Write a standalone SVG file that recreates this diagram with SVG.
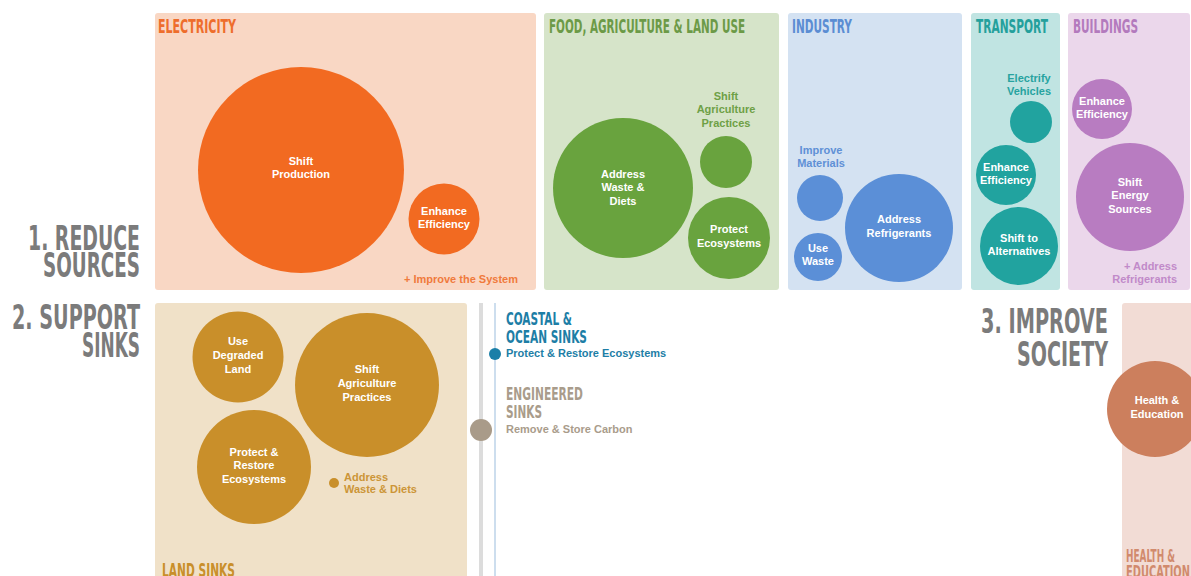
<svg xmlns="http://www.w3.org/2000/svg" width="1191" height="576" viewBox="0 0 1191 576">
<style>
.t{font-family:"Liberation Sans Narrow","DejaVu Sans Condensed","Liberation Sans",sans-serif;font-weight:bold}
.h{font-size:19px}
.big{font-size:34px;fill:#7b7b7b}
.b{font-family:"Liberation Sans",Arial,sans-serif;font-weight:bold;font-size:11px;text-anchor:middle}
.w{fill:#ffffff}
.l{font-family:"Liberation Sans",Arial,sans-serif;font-weight:bold;font-size:11px}
</style>
<rect width="1191" height="576" fill="#ffffff"/>

<g id="labels">
<text class="t big" x="140" y="250" text-anchor="end" textLength="112" lengthAdjust="spacingAndGlyphs">1. REDUCE</text>
<text class="t big" x="140" y="277" text-anchor="end" textLength="97" lengthAdjust="spacingAndGlyphs">SOURCES</text>
<text class="t big" x="140" y="329" text-anchor="end" textLength="128" lengthAdjust="spacingAndGlyphs">2. SUPPORT</text>
<text class="t big" x="140" y="357" text-anchor="end" textLength="58" lengthAdjust="spacingAndGlyphs">SINKS</text>
<text class="t big" x="1108" y="333" text-anchor="end" textLength="127" lengthAdjust="spacingAndGlyphs">3. IMPROVE</text>
<text class="t big" x="1108" y="366" text-anchor="end" textLength="91" lengthAdjust="spacingAndGlyphs">SOCIETY</text>
</g>

<g id="electricity">
<rect x="155" y="13" width="381" height="277" rx="3" fill="#f9d7c4"/>
<text class="t h" x="158" y="33" fill="#ee6d2c" textLength="78" lengthAdjust="spacingAndGlyphs">ELECTRICITY</text>
<circle cx="301" cy="170" r="103" fill="#f26a21"/>
<text class="b w" x="301" y="165">Shift</text>
<text class="b w" x="301" y="178">Production</text>
<circle cx="444" cy="219" r="35.5" fill="#f26a21"/>
<text class="b w" x="444" y="215">Enhance</text>
<text class="b w" x="444" y="228">Efficiency</text>
<text class="l" x="518" y="283" text-anchor="end" fill="#f07a3c">+ Improve the System</text>
</g>

<g id="food">
<rect x="544" y="13" width="235" height="277" rx="3" fill="#d6e4c9"/>
<text class="t h" x="549" y="33" fill="#6c9a47" textLength="196" lengthAdjust="spacingAndGlyphs">FOOD, AGRICULTURE &amp; LAND USE</text>
<circle cx="623" cy="188" r="70" fill="#69a33e"/>
<text class="b w" x="623" y="178">Address</text>
<text class="b w" x="623" y="191">Waste &amp;</text>
<text class="b w" x="623" y="205">Diets</text>
<text class="b" x="726" y="100" fill="#6ea046">Shift</text>
<text class="b" x="726" y="113" fill="#6ea046">Agriculture</text>
<text class="b" x="726" y="127" fill="#6ea046">Practices</text>
<circle cx="726" cy="162" r="26" fill="#69a33e"/>
<circle cx="729" cy="238" r="41" fill="#69a33e"/>
<text class="b w" x="729" y="233">Protect</text>
<text class="b w" x="729" y="247">Ecosystems</text>
</g>

<g id="industry">
<rect x="788" y="13" width="174" height="277" rx="3" fill="#d4e2f2"/>
<text class="t h" x="792" y="33" fill="#5b8dd3" textLength="60" lengthAdjust="spacingAndGlyphs">INDUSTRY</text>
<text class="b" x="821" y="154" fill="#5f90d6">Improve</text>
<text class="b" x="821" y="167" fill="#5f90d6">Materials</text>
<circle cx="820" cy="198" r="23" fill="#5b8fd7"/>
<circle cx="818" cy="257" r="24" fill="#5b8fd7"/>
<text class="b w" x="818" y="252">Use</text>
<text class="b w" x="818" y="265">Waste</text>
<circle cx="899" cy="228" r="54" fill="#5b8fd7"/>
<text class="b w" x="899" y="223">Address</text>
<text class="b w" x="899" y="237">Refrigerants</text>
</g>

<g id="transport">
<rect x="971" y="13" width="89" height="277" rx="3" fill="#c0e4e2"/>
<text class="t h" x="976" y="33" fill="#24a09c" textLength="72" lengthAdjust="spacingAndGlyphs">TRANSPORT</text>
<text class="b" x="1029" y="82" fill="#27a3a0">Electrify</text>
<text class="b" x="1029" y="95" fill="#27a3a0">Vehicles</text>
<circle cx="1031" cy="122" r="21" fill="#21a39f"/>
<circle cx="1006" cy="175" r="30" fill="#21a39f"/>
<text class="b w" x="1006" y="171">Enhance</text>
<text class="b w" x="1006" y="184">Efficiency</text>
<circle cx="1019" cy="246" r="39" fill="#21a39f"/>
<text class="b w" x="1019" y="242">Shift to</text>
<text class="b w" x="1019" y="255">Alternatives</text>
</g>

<g id="buildings">
<rect x="1068" y="13" width="122" height="277" rx="3" fill="#ebd7eb"/>
<text class="t h" x="1073" y="33" fill="#b37abd" textLength="65" lengthAdjust="spacingAndGlyphs">BUILDINGS</text>
<circle cx="1102" cy="109" r="30" fill="#b87cc1"/>
<text class="b w" x="1102" y="105">Enhance</text>
<text class="b w" x="1102" y="118">Efficiency</text>
<circle cx="1130" cy="197" r="54" fill="#b87cc1"/>
<text class="b w" x="1130" y="186">Shift</text>
<text class="b w" x="1130" y="199">Energy</text>
<text class="b w" x="1130" y="213">Sources</text>
<text class="l" x="1177" y="270" text-anchor="end" fill="#c18ac9">+ Address</text>
<text class="l" x="1177" y="283" text-anchor="end" fill="#c18ac9">Refrigerants</text>
</g>

<g id="land-sinks">
<rect x="155" y="303" width="312" height="280" rx="3" fill="#f0e1c8"/>
<circle cx="238" cy="357" r="45.5" fill="#c98f2a"/>
<text class="b w" x="238" y="345">Use</text>
<text class="b w" x="238" y="359">Degraded</text>
<text class="b w" x="238" y="373">Land</text>
<circle cx="367" cy="385" r="72" fill="#c98f2a"/>
<text class="b w" x="367" y="373">Shift</text>
<text class="b w" x="367" y="387">Agriculture</text>
<text class="b w" x="367" y="401">Practices</text>
<circle cx="254" cy="467" r="57" fill="#c98f2a"/>
<text class="b w" x="254" y="456">Protect &amp;</text>
<text class="b w" x="254" y="469">Restore</text>
<text class="b w" x="254" y="483">Ecosystems</text>
<circle cx="334" cy="483" r="5" fill="#c98f2a"/>
<text class="l" x="344" y="481" fill="#cc9537">Address</text>
<text class="l" x="344" y="493" fill="#cc9537">Waste &amp; Diets</text>
<text class="t h" x="162" y="577" fill="#c98f2a" textLength="73" lengthAdjust="spacingAndGlyphs">LAND SINKS</text>
</g>

<g id="connectors">
<line x1="481" y1="303" x2="481" y2="576" stroke="#dcdcdc" stroke-width="4"/>
<line x1="495" y1="303" x2="495" y2="576" stroke="#bcd3e8" stroke-width="1.5"/>
</g>

<g id="coastal-sinks">
<circle cx="495" cy="354" r="6" fill="#1a7fa8"/>
<text class="t" font-size="18" x="506" y="325" fill="#1d7ea6" textLength="66" lengthAdjust="spacingAndGlyphs">COASTAL &amp;</text>
<text class="t" font-size="18" x="506" y="343" fill="#1d7ea6" textLength="81" lengthAdjust="spacingAndGlyphs">OCEAN SINKS</text>
<text class="l" x="506" y="357" fill="#1d7ea6">Protect &amp; Restore Ecosystems</text>
</g>

<g id="engineered-sinks">
<circle cx="481" cy="430" r="11" fill="#a99b89"/>
<text class="t" font-size="18" x="506" y="400" fill="#a99c8b" textLength="77" lengthAdjust="spacingAndGlyphs">ENGINEERED</text>
<text class="t" font-size="18" x="506" y="418" fill="#a99c8b" textLength="36" lengthAdjust="spacingAndGlyphs">SINKS</text>
<text class="l" x="506" y="433" fill="#a99c8b">Remove &amp; Store Carbon</text>
</g>

<g id="health-education">
<rect x="1122" y="303" width="72" height="280" rx="3" fill="#f2dcd5"/>
<circle cx="1155" cy="409" r="48" fill="#cc7f5d"/>
<text class="b w" x="1157" y="404">Health &amp;</text>
<text class="b w" x="1157" y="418">Education</text>
<text class="t" font-size="17" x="1126" y="562" fill="#d18a6d" textLength="49" lengthAdjust="spacingAndGlyphs">HEALTH &amp;</text>
<text class="t" font-size="17" x="1126" y="578" fill="#d18a6d" textLength="64" lengthAdjust="spacingAndGlyphs">EDUCATION</text>
</g>
</svg>
